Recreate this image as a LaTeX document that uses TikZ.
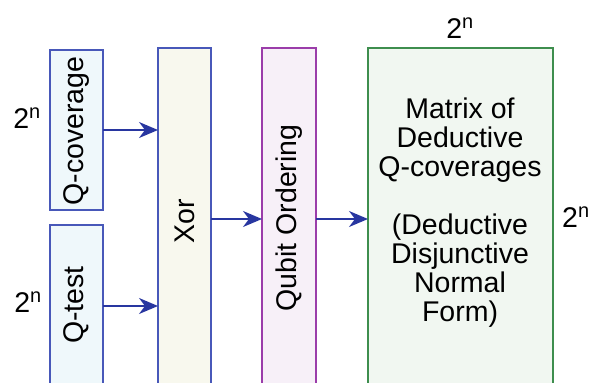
\documentclass[tikz,border=0pt]{standalone}
\usepackage{fontspec}
\setmainfont{Liberation Sans}
\usetikzlibrary{arrows.meta}
\definecolor{bblue}{RGB}{72,88,185}
\definecolor{qfill}{RGB}{239,248,251}
\definecolor{xfill}{RGB}{248,248,238}
\definecolor{ppl}{RGB}{155,61,170}
\definecolor{pfill}{RGB}{247,240,248}
\definecolor{grn}{RGB}{62,142,78}
\definecolor{gfill}{RGB}{241,247,241}
\definecolor{arrowc}{RGB}{40,54,160}
\begin{document}
\begin{tikzpicture}[x=1pt,y=-1pt,
  font=\fontsize{28.5}{29}\selectfont,
  box/.style={draw, line width=2pt, inner sep=0pt, outer sep=0pt},
  txt/.style={inner sep=0pt, rotate=90},
  conn/.style={draw=arrowc, line width=1.8pt, -{Stealth[length=19pt,width=16pt,inset=6pt]}},
  dimlbl/.style={inner sep=0pt, anchor=base}]
\clip (0,0) rectangle (592,383);
% boxes
\node[box, draw=bblue, fill=qfill, minimum width=53pt, minimum height=160pt] (qcov) at (76.5,130) {};
\node[box, draw=bblue, fill=qfill, minimum width=53pt, minimum height=162pt] (qtest) at (76.5,306) {};
\node[box, draw=bblue, fill=xfill, minimum width=53pt, minimum height=342pt] (xor) at (184.5,219) {};
\node[box, draw=ppl, fill=pfill, minimum width=54pt, minimum height=342pt] (qubit) at (289,219) {};
\node[box, draw=grn, fill=gfill, minimum width=185pt, minimum height=342pt] (mat) at (460.5,219) {};
% texts
\node[txt] (qcovt) at (76.5,131) {Q-coverage};
\node[txt] (qtestt) at (76.5,305) {Q-test};
\node[txt] (xort) at (184.5,221) {Xor};
\node[txt] (qubitt) at (289,218) {Qubit Ordering};
\node[inner sep=0pt, align=center] (matt) at (460,212.5)
  {Matrix of\\Deductive\\Q-coverages\\[29pt](Deductive\\Disjunctive\\Normal\\Form)};
% dimension labels
\node[dimlbl] (d1) at (27,128) {2\textsuperscript{n}};
\node[dimlbl] (d2) at (28,312) {2\textsuperscript{n}};
\node[dimlbl] (d3) at (460,38) {2\textsuperscript{n}};
\node[dimlbl, anchor=base west] (d4) at (562,227) {2\textsuperscript{n}};
% connectors
\draw[conn] (qcov.east) -- (qcov.east -| xor.west);
\draw[conn] (qtest.east) -- (qtest.east -| xor.west);
\draw[conn] (xor.east) -- (qubit.west);
\draw[conn] (qubit.east) -- (mat.west);
\end{tikzpicture}
\end{document}
